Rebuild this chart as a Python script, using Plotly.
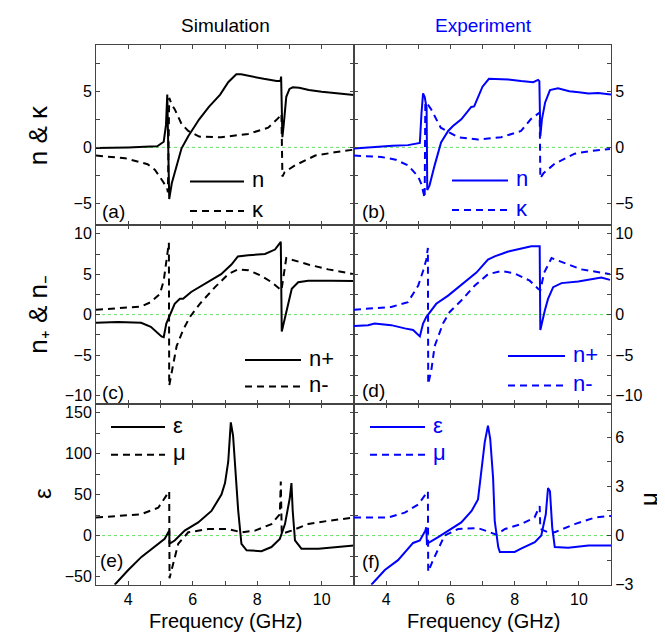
import plotly.graph_objects as go

# ---------------- data ----------------
# (a) simulation: refractive index n and extinction kappa
n_sim_f = [3.0, 3.5, 4.0, 4.5, 4.9, 5.0, 5.1, 5.17, 5.21, 5.24, 5.27, 5.35, 5.45, 5.55, 5.65, 5.86, 6.05, 6.2, 6.5, 6.85, 7.1, 7.35, 7.5, 7.8, 8.2, 8.6, 8.72, 8.74, 8.76, 8.78, 8.82, 8.9, 9.0, 9.1, 9.3, 9.6, 10.0, 10.5, 11.0]
n_sim = [-0.05, -0.05, 0.0, 0.05, 0.1, 0.3, 0.5, 2.0, 4.7, 0.0, -4.6, -3.2, -2.1, -1.0, -0.1, 1.0, 1.9, 2.5, 3.6, 4.7, 5.8, 6.5, 6.5, 6.3, 6.1, 5.9, 5.9, 6.3, 3.0, 0.9, 2.0, 4.5, 5.2, 5.35, 5.3, 5.1, 4.95, 4.8, 4.65]
k_sim_f = [3.0, 3.9, 4.6, 4.83, 5.08, 5.2, 5.23, 5.27, 5.35, 5.44, 5.65, 5.86, 6.2, 6.88, 7.72, 8.34, 8.65, 8.75, 8.78, 8.85, 9.17, 9.8, 10.4, 11.0]
k_sim = [-0.73, -0.96, -1.5, -2.0, -3.06, -3.6, -4.0, 4.4, 3.8, 3.4, 2.1, 1.46, 0.96, 0.9, 1.2, 1.75, 2.6, 3.0, -2.6, -2.2, -1.6, -0.73, -0.44, -0.2]

# (b) experiment: n and kappa
n_exp_f = [3.0, 3.4, 3.8, 4.2, 4.68, 5.0, 5.05, 5.1, 5.15, 5.2, 5.26, 5.28, 5.35, 5.51, 5.71, 5.93, 6.08, 6.34, 6.65, 6.74, 7.0, 7.2, 7.5, 7.8, 8.2, 8.58, 8.73, 8.77, 8.8, 8.85, 8.95, 9.1, 9.35, 9.7, 10.0, 10.3, 10.6, 11.0]
n_exp = [-0.1, 0.0, 0.05, 0.15, 0.2, 0.35, 0.4, 3.0, 4.8, 4.5, 3.5, -3.8, -3.4, -1.6, 0.44, 1.46, 1.9, 2.5, 3.6, 3.65, 5.4, 6.1, 6.1, 6.05, 5.9, 5.8, 6.0, 5.9, 1.0, 2.5, 4.0, 5.1, 5.25, 5.0, 4.9, 4.8, 4.85, 4.7]
k_exp_f = [3.0, 3.85, 4.3, 4.68, 5.0, 5.1, 5.2, 5.22, 5.3, 5.4, 5.7, 6.24, 6.86, 7.58, 8.2, 8.5, 8.78, 8.8, 8.9, 9.25, 9.87, 10.4, 10.97]
k_exp = [-0.73, -0.85, -1.1, -1.6, -2.6, -3.3, -4.5, 4.0, 3.8, 3.4, 1.75, 0.9, 0.7, 0.9, 1.46, 2.5, 3.1, -2.75, -2.3, -1.45, -0.56, -0.3, -0.14]

# (c) simulation: n+ and n-
np_sim_f = [3.0, 3.68, 4.4, 4.7, 5.03, 5.1, 5.18, 5.29, 5.44, 5.6, 5.7, 5.95, 6.48, 6.88, 7.2, 7.4, 7.72, 8.24, 8.55, 8.73, 8.76, 8.91, 9.07, 9.27, 9.58, 10.3, 11.0]
np_sim = [-1.0, -0.9, -1.0, -1.5, -2.7, -2.8, -1.1, -0.1, 1.34, 1.95, 1.95, 2.8, 4.0, 5.0, 6.2, 7.2, 7.35, 7.5, 8.05, 9.0, -2.1, 0.5, 3.2, 4.0, 4.2, 4.2, 4.15]
nm_sim_f = [3.0, 4.4, 4.7, 4.98, 5.1, 5.21, 5.26, 5.27, 5.39, 5.5, 5.7, 5.91, 6.22, 6.69, 7.1, 7.4, 7.72, 8.13, 8.45, 8.7, 8.75, 8.9, 9.58, 10.2, 11.0]
nm_sim = [0.6, 1.0, 1.55, 2.56, 4.2, 7.8, 8.9, -8.8, -6.0, -3.9, -1.9, -0.3, 1.34, 3.4, 5.0, 5.6, 5.5, 4.8, 4.0, 3.2, 3.0, 7.0, 6.2, 5.6, 5.0]

# (d) experiment: n+ and n-
np_exp_f = [3.0, 3.44, 3.64, 4.16, 4.58, 4.84, 5.05, 5.15, 5.25, 5.56, 5.93, 6.45, 6.81, 7.17, 7.38, 7.8, 8.21, 8.52, 8.78, 8.8, 8.94, 9.04, 9.2, 9.46, 9.98, 10.5, 10.7, 10.97]
np_exp = [-1.4, -1.3, -1.1, -1.3, -1.7, -1.9, -2.7, -1.1, -0.3, 1.34, 2.35, 4.0, 5.2, 6.8, 7.2, 7.8, 8.15, 8.45, 8.45, -1.9, 0.5, 1.95, 3.4, 3.9, 4.1, 4.5, 4.6, 4.3]
nm_exp_f = [3.0, 4.16, 4.68, 5.0, 5.15, 5.25, 5.3, 5.31, 5.41, 5.51, 5.77, 5.98, 6.34, 6.76, 7.17, 7.59, 8.0, 8.47, 8.73, 8.8, 8.92, 9.15, 9.67, 10.08, 10.7, 10.97]
nm_exp = [0.6, 0.95, 1.55, 3.6, 5.4, 6.8, 8.25, -8.6, -6.8, -3.9, -1.1, 0.33, 1.75, 3.6, 5.0, 5.4, 5.1, 4.2, 3.2, 3.0, 5.2, 7.0, 6.2, 5.6, 5.2, 5.0]

# (e) simulation: permittivity and permeability
eps_sim_f = [3.58, 4.0, 4.41, 4.82, 5.13, 5.27, 5.28, 5.44, 5.75, 6.17, 6.58, 6.89, 7.0, 7.1, 7.15, 7.18, 7.25, 7.33, 7.41, 7.51, 7.67, 8.13, 8.44, 8.7, 8.86, 9.01, 9.06, 9.1, 9.17, 9.37, 9.9, 11.0]
eps_sim = [-60, -42, -26, -14, -4, 6, -10, -6, 6, 16, 30, 50, 64, 90, 120, 138, 122, 70, 30, -10, -18, -19, -14, -4, 14, 46, 64, 30, -6, -16, -16, -12]
mu_sim_f = [3.0, 4.4, 4.93, 5.27, 5.28, 5.39, 5.55, 5.86, 6.48, 7.1, 7.51, 7.93, 8.44, 8.7, 8.73, 8.76, 9.06, 9.58, 10.2, 11.0]
mu_sim = [1.1, 1.3, 1.7, 2.7, -2.6, -1.7, -0.5, 0.2, 0.4, 0.4, 0.2, 0.3, 0.7, 1.3, 3.3, 0.1, 0.3, 0.7, 0.9, 1.1]

# (f) experiment: permittivity and permeability
eps_exp_f = [3.54, 3.96, 4.37, 4.63, 4.84, 5.05, 5.22, 5.25, 5.27, 5.62, 5.93, 6.34, 6.66, 6.86, 7.07, 7.17, 7.24, 7.33, 7.38, 7.49, 7.54, 8.0, 8.2, 8.63, 8.83, 8.97, 9.04, 9.1, 9.17, 9.25, 9.67, 10.3, 11.0]
eps_exp = [-60, -42, -30, -18, -9, -6, 6, 10, -10, -2, 6, 16, 30, 44, 114, 134, 118, 70, 18, -14, -20, -20, -16, -8, 0, 26, 58, 54, 10, -14, -15, -12, -12]
mu_exp_f = [3.0, 4.06, 4.58, 5.0, 5.3, 5.31, 5.46, 5.82, 6.24, 6.86, 7.17, 7.43, 7.7, 8.2, 8.62, 8.78, 8.8, 9.04, 9.25, 9.87, 10.5, 11.0]
mu_exp = [1.1, 1.1, 1.4, 1.9, 2.7, -2.2, -1.5, 0.0, 0.4, 0.45, 0.25, 0.05, 0.4, 0.7, 1.1, 1.8, 0.4, 0.2, 0.2, 0.7, 1.1, 1.2]

# tick labels
x_ticks = [4, 6, 8, 10]
nk_ticks = [-5, 0, 5]
npm_ticks = [-10, -5, 0, 5, 10]
eps_ticks = [-50, 0, 50, 100, 150]
mu_ticks = [-3, 0, 3, 6]

# ---------------- figure ----------------
W, H = 665, 640
BLACK = '#000000'
BLUE = '#0000ff'
FONT = 'Liberation Sans, Arial, sans-serif'
DASH = '7px,5px'

def px(x):
    return x / W

def py(y):
    return 1 - y / H

XL = [px(88), px(346)]
XR = [px(346), px(603)]
YA = [py(220), py(38)]
YC = [py(402), py(220)]
YE = [py(585), py(402)]

fig = go.Figure()

def line(xs, ys, color, dash, xa, ya):
    fig.add_trace(go.Scatter(x=xs, y=ys, mode='lines', xaxis=xa, yaxis=ya,
                             line=dict(color=color, width=2, dash=dash),
                             showlegend=False, hoverinfo='skip'))

line(n_sim_f, n_sim, BLACK, 'solid', 'x', 'y')
line(k_sim_f, k_sim, BLACK, DASH, 'x', 'y')
line(n_exp_f, n_exp, BLUE, 'solid', 'x2', 'y2')
line(k_exp_f, k_exp, BLUE, DASH, 'x2', 'y2')
line(np_sim_f, np_sim, BLACK, 'solid', 'x3', 'y3')
line(nm_sim_f, nm_sim, BLACK, DASH, 'x3', 'y3')
line(np_exp_f, np_exp, BLUE, 'solid', 'x4', 'y4')
line(nm_exp_f, nm_exp, BLUE, DASH, 'x4', 'y4')
line(eps_sim_f, eps_sim, BLACK, 'solid', 'x5', 'y5')
line(mu_sim_f, mu_sim, BLACK, DASH, 'x5', 'y7')
line(eps_exp_f, eps_exp, BLUE, 'solid', 'x6', 'y6')
line(mu_exp_f, mu_exp, BLUE, DASH, 'x6', 'y8')

AXC = '#444'
AX = dict(showline=True, linecolor=AXC, linewidth=1, mirror='ticks',
          ticks='inside', ticklen=4, tickcolor=AXC, showgrid=False,
          zeroline=False, tickfont=dict(family=FONT, size=16, color='black'))

def xax(dom, anchor, labels):
    d = dict(AX)
    d.update(domain=dom, anchor=anchor, range=[3, 11], tickmode='array',
             tickvals=x_ticks, showticklabels=labels,
             minor=dict(dtick=1, tick0=3, ticks='inside', ticklen=4, tickcolor=AXC))
    return d

def yax(dom, anchor, rng, tv, minor_step, side='left', labels=True, mirror='ticks'):
    d = dict(AX)
    d.update(domain=dom, anchor=anchor, range=rng, tickmode='array',
             tickvals=tv, side=side, showticklabels=labels, mirror=mirror,
             minor=dict(dtick=minor_step, tick0=0, ticks='inside', ticklen=4, tickcolor=AXC))
    return d

nk_range = [-6.9, 9.07]
npm_range = [-11.1, 11.1]
eps_range = [-60, 160]
mu_range = [-3, 8]

fig.update_layout(
    width=W, height=H, margin=dict(l=0, r=0, t=0, b=0),
    plot_bgcolor='white', paper_bgcolor='white', showlegend=False,
    xaxis=xax(XL, 'y', False),
    xaxis2=xax(XR, 'y2', False),
    xaxis3=xax(XL, 'y3', False),
    xaxis4=xax(XR, 'y4', False),
    xaxis5=xax(XL, 'y5', True),
    xaxis6=xax(XR, 'y6', True),
    yaxis=yax(YA, 'x', nk_range, nk_ticks, 2.5),
    yaxis2=yax(YA, 'x2', nk_range, nk_ticks, 2.5, side='right'),
    yaxis3=yax(YC, 'x3', npm_range, npm_ticks, 2.5),
    yaxis4=yax(YC, 'x4', npm_range, npm_ticks, 2.5, side='right'),
    yaxis5=yax(YE, 'x5', eps_range, eps_ticks, 25),
    yaxis6=yax(YE, 'x6', eps_range, eps_ticks, 25, labels=False, mirror=True),
    yaxis7=dict(overlaying='y5', anchor='x5', range=mu_range, visible=False),
    yaxis8=yax(YE, 'x6', mu_range, mu_ticks, 1.5, side='right', mirror=False),
)
fig.layout.yaxis8.overlaying = 'y6'
fig.layout.yaxis8.domain = None

# green dotted zero lines
for xa, ya in [('x', 'y'), ('x2', 'y2'), ('x3', 'y3'), ('x4', 'y4'), ('x5', 'y5'), ('x6', 'y6')]:
    fig.add_shape(type='line', xref=xa + ' domain', yref=ya, x0=0, x1=1, y0=0, y1=0,
                  line=dict(color='#66e066', width=1, dash='dot'), layer='below')

ann = []
def text(x, y, s, size=18, color='black', xanchor='left', angle=0):
    ann.append(dict(x=px(x), y=py(y), xref='paper', yref='paper', text=s,
                    showarrow=False, xanchor=xanchor, yanchor='middle', textangle=angle,
                    font=dict(family=FONT, size=size, color=color)))

# column titles
text(217, 18, 'Simulation', 19, BLACK, 'center')
text(475, 18, 'Experiment', 19, BLUE, 'center')
# axis titles
text(217, 622, 'Frequency (GHz)', 20, BLACK, 'center')
text(475, 622, 'Frequency (GHz)', 20, BLACK, 'center')
text(30, 129, 'n &amp; κ', 26, BLACK, 'center', -90)
text(30, 311, 'n₊ &amp; n₋', 26, BLACK, 'center', -90)
text(34, 493, 'ε', 24, BLACK, 'center', -90)
text(641, 498, 'μ', 24, BLACK, 'center', -90)
# panel labels
for lab, x, y in [('(a)', 92, 206), ('(b)', 352, 206), ('(c)', 92, 390),
                  ('(d)', 352, 388), ('(e)', 90, 560), ('(f)', 352, 561)]:
    text(x, y, lab, 19)

# legends (sample line + label)
def legend_item(x0, x1, y, dash, color, label):
    fig.add_shape(type='line', xref='paper', yref='paper', x0=px(x0), x1=px(x1),
                  y0=py(y), y1=py(y), line=dict(color=color, width=2, dash=dash))
    text(x1 + 6, y - 2, label, 22, color)

legend_item(182, 236, 176, 'solid', BLACK, 'n')
legend_item(182, 236, 206, DASH, BLACK, 'κ')
legend_item(444, 500, 175, 'solid', BLUE, 'n')
legend_item(444, 500, 205, DASH, BLUE, 'κ')
legend_item(237, 293, 357, 'solid', BLACK, 'n+')
legend_item(237, 293, 384, DASH, BLACK, 'n-')
legend_item(500, 557, 353, 'solid', BLUE, 'n+')
legend_item(500, 557, 383, DASH, BLUE, 'n-')
legend_item(103, 157, 425, 'solid', BLACK, 'ε')
legend_item(103, 157, 453, DASH, BLACK, 'μ')
legend_item(362, 417, 425, 'solid', BLUE, 'ε')
legend_item(362, 417, 453, DASH, BLUE, 'μ')

fig.update_layout(annotations=ann)
fig.write_html('out.html')
